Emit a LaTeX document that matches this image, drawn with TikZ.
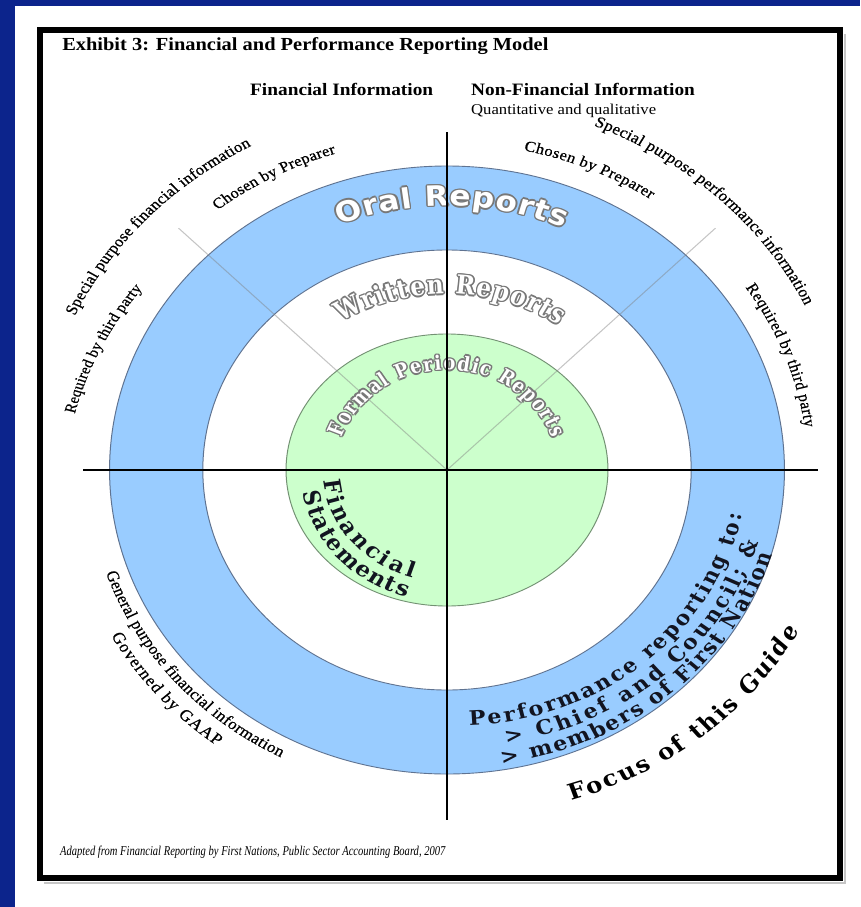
\documentclass[tikz,border=0pt]{standalone}
\usepackage{graphicx}
\usepackage{fontspec}
\setmainfont{Liberation Serif}
\newfontfamily\lblf{Liberation Serif}[FakeBold=0.6]
\newfontfamily\bookf{DejaVu Serif}
\newfontfamily\bookc{DejaVu Serif}[FakeStretch=0.8]
\newfontfamily\roundf{DejaVu Sans}
\usetikzlibrary{decorations.text}
\definecolor{bgblue}{RGB}{12,36,140}
\definecolor{ringblue}{RGB}{153,204,255}
\definecolor{ringedge}{RGB}{95,115,145}
\definecolor{lightgreen}{RGB}{204,255,204}
\definecolor{greenedge}{RGB}{115,145,115}
\definecolor{outl}{RGB}{120,120,120}
\definecolor{darktext}{RGB}{18,20,32}
\tikzset{
  diag/.style={draw=gray, draw opacity=0.45, line width=1pt},
  axis/.style={draw=black, line width=2.4pt},
  headb/.style={anchor=base west, inner sep=0pt, font=\bfseries\fontsize{17.4}{19}\selectfont},
}
% #1 path options, #2 start angle, #3 end angle, #4 start radius, #5 end radius, #6 decoration keys
\newcommand\arctext[6][]{%
  \path[#1, decorate, decoration={text along path, text align={fit to path}, #6}]
    plot[domain=0:1, samples=90] ({(#2)+((#3)-(#2))*\x}:{(#4)+((#5)-(#4))*\x});}
% outlined (white fill, grey rim) text along an arc
\newcommand\outtext[6]{%
  \foreach \dx/\dy in {1.4/0,-1.4/0,0/1.4,0/-1.4,1/1,-1/1,1/-1,-1/-1}{%
    \arctext[shift={(\dx,\dy)}]{#1}{#2}{#3}{#4}{text={|#5|#6}, text color=outl}}%
  \arctext{#1}{#2}{#3}{#4}{text={|#5|#6}, text color=white}}
\begin{document}
\begin{tikzpicture}[x=1pt, y=1pt]
\useasboundingbox (0,0) rectangle (860,-907);
\fill[bgblue] (0,0) rectangle (860,-907);
\fill[white] (15,-6) rectangle (860,-907);
\draw[gray!45, line width=2pt] (845,-34) -- (845,-883) -- (44,-883);
\draw[line width=6pt] (40,-30) rectangle (840,-878);

% ---------- rings (drawn in unstretched coordinates, stretched on canvas) ----------
\begin{scope}[transform canvas={xscale=1.11}]
 \begin{scope}[shift={(402.7,-470)}]
  \path[fill=ringblue, draw=ringedge, line width=0.9pt] (0,0) circle[radius=304];
  \path[fill=white, draw=ringedge, line width=0.9pt] (0,0) circle[radius=220];
  \path[fill=lightgreen, draw=greenedge, line width=0.9pt] (0,0) ellipse[x radius=145, y radius=136];
  \coordinate (ctr) at (0,0);
  \coordinate (dl) at (135:342);
  \coordinate (dr) at (45:342);
  \draw[diag] (ctr) -- (dl);
  \draw[diag] (ctr) -- (dr);

  % ring titles
  \outtext{111.5}{66.5}{264}{264}{\roundf\bfseries\fontsize{28}{28}\selectfont}{Oral Reports}
  \outtext{122.6}{55.3}{176}{176}{\bookc\bfseries\fontsize{26}{26}\selectfont}{Written Reports}
  \outtext{161}{18.5}{100}{100}{\bookc\bfseries\fontsize{20}{20}\selectfont}{Formal Periodic Reports}

  % green core, lower left
  \arctext{185.5}{254}{112}{112}{text={|\bookf\bfseries\fontsize{21}{21}\selectfont|Financial}, text color=darktext}
  \arctext{190}{254}{132}{132}{text={|\bookf\bfseries\fontsize{21}{21}\selectfont|Statements}, text color=darktext}

  % blue ring, lower right
  \arctext{-85.5}{-9.5}{256}{270}{text={|\bookf\bfseries\fontsize{20}{20}\selectfont|Performance reporting to:}, text color=darktext}
  \arctext{-79}{-14.5}{278}{290}{text={|\bookf\bfseries\fontsize{20}{20}\selectfont|> Chief and Council; {\&}}, text color=darktext}
  \arctext{-80.5}{-16}{298}{305}{text={|\bookf\bfseries\fontsize{20}{20}\selectfont|> members of First Nation}, text color=darktext}
  \arctext{-71.3}{-26.8}{349}{356}{text={|\bookf\bfseries\fontsize{22}{22}\selectfont|Focus of this |\bookf\bfseries\itshape\fontsize{22}{22}\selectfont|Guide}, text color=black}

  % outer labels, upper left
  \arctext{155.3}{118.5}{369}{369}{text={|\lblf\fontsize{15.2}{16}\selectfont|Special purpose financial information}}
  \arctext{128.5}{107.5}{332}{332}{text={|\lblf\fontsize{15}{16}\selectfont|Chosen by Preparer}}
  \arctext{170.5}{146.5}{340}{329}{text={|\lblf\fontsize{14.5}{16}\selectfont|Required by third party}}
  % outer labels, upper right
  \arctext{77.8}{55.9}{327}{327}{text={|\lblf\fontsize{15}{16}\selectfont|Chosen by Preparer}}
  \arctext{69}{27}{369}{362}{text={|\lblf\fontsize{15.5}{16}\selectfont|Special purpose performance information}}
  \arctext{34.2}{7.5}{325}{325}{text={|\lblf\fontsize{15}{16}\selectfont|Required by third party}}
  % outer labels, lower left
  \arctext{198.5}{242.5}{324}{324}{text={|\lblf\fontsize{15.5}{16}\selectfont|General purpose financial information}}
  \arctext{208.7}{233.1}{345}{345}{text={|\lblf\fontsize{16}{17}\selectfont|Governed by GAAP}}
 \end{scope}

 % headings
 \node[anchor=base west, inner sep=0pt, font=\bfseries\fontsize{18.4}{20}\selectfont] (title) at (55.9,-51)
   {Exhibit 3: Financial and Performance Reporting Model};
 \node[headb] (fin) at (225.2,-95) {Financial Information};
 \node[headb] (nonfin) at (424.3,-95) {Non-Financial Information};
 \node[anchor=base west, inner sep=0pt, font=\fontsize{15}{16}\selectfont] (quant) at (424.3,-114)
   {Quantitative and qualitative};
 \node[anchor=base west, inner sep=0pt] (source) at (54,-855)
   {\resizebox{347pt}{9.5pt}{\itshape Adapted from Financial Reporting by First Nations, Public Sector Accounting Board, 2007}};
\end{scope}

% ---------- axes ----------
\coordinate (hL) at (83,-470);
\coordinate (hR) at (818,-470);
\coordinate (vT) at (447,-132);
\coordinate (vB) at (447,-820);
\draw[axis] (hL) -- (hR);
\draw[axis] (vT) -- (vB);
\end{tikzpicture}
\end{document}
